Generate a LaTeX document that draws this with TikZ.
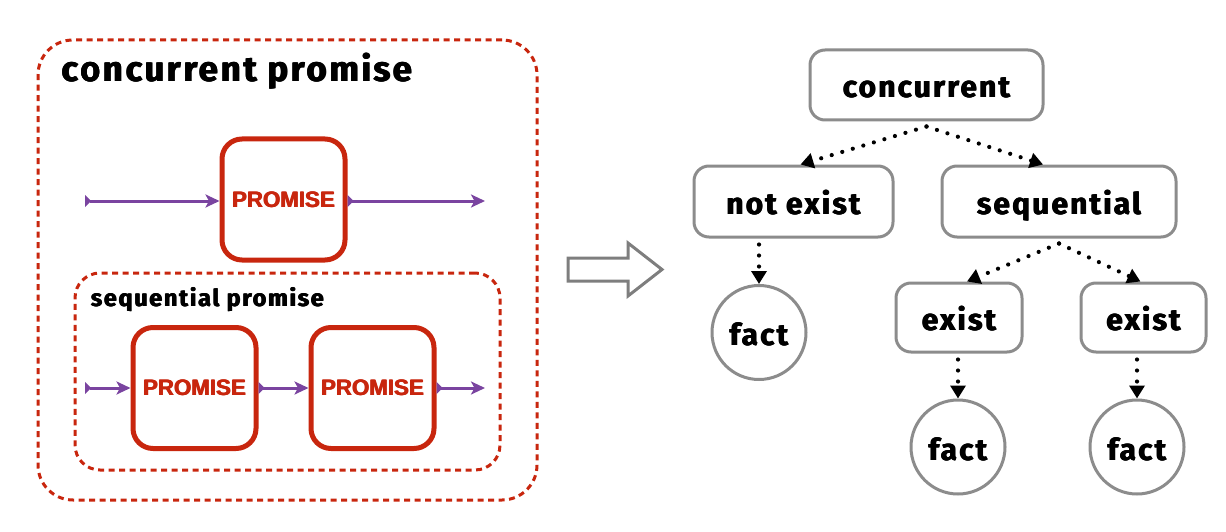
\documentclass[tikz,border=0pt]{standalone}
\usepackage{fontspec}
\usetikzlibrary{arrows.meta, positioning}
\newfontfamily\lblfont{Fira Sans}[LetterSpace=7]
\newfontfamily\promfont{Liberation Sans Bold}
\newcommand{\heavy}[1]{\rlap{#1}\hspace{0.45pt}\rlap{#1}\hspace{0.45pt}#1}
\definecolor{promred}{HTML}{C8260E}
\definecolor{flowpurple}{HTML}{7A44A0}
\definecolor{treegray}{HTML}{8C8C8C}
\tikzstyle{group} = [draw=promred, line width=3, dash pattern=on 6 off 4.5, inner sep=0]
\tikzstyle{promise} = [draw=promred, line width=5, rounded corners=20, inner sep=0,
  minimum width=123, minimum height=121, text=promred,
  font=\promfont\fontsize{22.3}{22.3}\selectfont]
\tikzstyle{flow} = [draw=flowpurple, line width=3,
  {Triangle[reversed,length=6,width=12]}-{Stealth[length=14,width=13,inset=3.5]}]
\tikzstyle{tnode} = [draw=treegray, line width=3, rounded corners=15, fill=white,
  inner sep=0, text height=26, text depth=0,
  font=\lblfont\bfseries\fontsize{30}{30}\selectfont]
\tikzstyle{fnode} = [tnode, circle, minimum size=94]
\tikzstyle{link} = [draw=black, line width=4.2, line cap=round, dash pattern=on 0 off 11,
  -{Triangle[length=13,width=15]}]

\begin{document}
\begin{tikzpicture}[x=1pt, y=-1pt]
  \useasboundingbox (0,0) rectangle (1226,532);
  % left: promise groups
  \node[group, rounded corners=35, minimum width=499, minimum height=460] (conc) at (287.5,270) {};
  \node[anchor=base west, font=\lblfont\bfseries\fontsize{35}{35}\selectfont] (conct) at (58,82) {\heavy{concurrent promise}};
  \node[promise] (p1) at (283.5,199.5) {\heavy{PROMISE}};
  \coordinate (in1) at (85,201);
  \coordinate (out1) at (485,201);
  \draw[flow] (in1) -- (p1.west |- in1);
  \draw[flow] (p1.east |- out1) -- (out1);

  \node[group, rounded corners=25, minimum width=425, minimum height=197] (seq) at (287.5,371.5) {};
  \node[anchor=base west, font=\lblfont\bfseries\fontsize{23.5}{23.5}\selectfont] (seqt) at (87,306) {\heavy{sequential promise}};
  \node[promise] (p2) at (194.5,388) {\heavy{PROMISE}};
  \node[promise] (p3) at (372.5,388) {\heavy{PROMISE}};
  \coordinate (in2) at (85,388);
  \coordinate (out2) at (485,388);
  \draw[flow] (in2) -- (p2.west |- in2);
  \draw[flow] (p2) -- (p3);
  \draw[flow] (p3.east |- out2) -- (out2);

  % hollow arrow
  \draw[draw=treegray!90!black, line width=3, line join=miter]
    (568,258) -- (628,258) -- (628,243) -- (662,269.5) -- (628,296) -- (628,281) -- (568,281) -- cycle;

  % right: tree
  \node[tnode, minimum width=233, minimum height=70] (cc) at (926.5,85) {\heavy{concurrent}};
  \node[tnode, minimum width=199, minimum height=71] (ne) at (793.5,201.5) {\heavy{not exist}};
  \node[tnode, minimum width=234, minimum height=71] (sq) at (1059,201.5) {\heavy{sequential}};
  \node[tnode, minimum width=126, minimum height=69] (ex1) at (959,317.5) {\heavy{exist}};
  \node[tnode, minimum width=125, minimum height=69] (ex2) at (1143.5,317.5) {\heavy{exist}};
  \node[fnode] (f1) at (759,332.5) {\heavy{fact}};
  \node[fnode] (f2) at (958,447) {\heavy{fact}};
  \node[fnode] (f3) at (1137,447) {\heavy{fact}};

  \draw[link] ([yshift=-5]cc.south) -- ([xshift=7]ne.north);
  \draw[link] ([yshift=-5]cc.south) -- ([xshift=-16]sq.north);
  \draw[link] ([yshift=-5]sq.south) -- ([xshift=8]ex1.north);
  \draw[link] ([yshift=-5]sq.south) -- ([xshift=-3]ex2.north);
  \draw[link] ([yshift=-6]ne.south -| f1) -- (f1.north);
  \draw[link] ([yshift=-6]ex1.south -| f2) -- (f2.north);
  \draw[link] ([yshift=-6]ex2.south -| f3) -- (f3.north);
\end{tikzpicture}
\end{document}
